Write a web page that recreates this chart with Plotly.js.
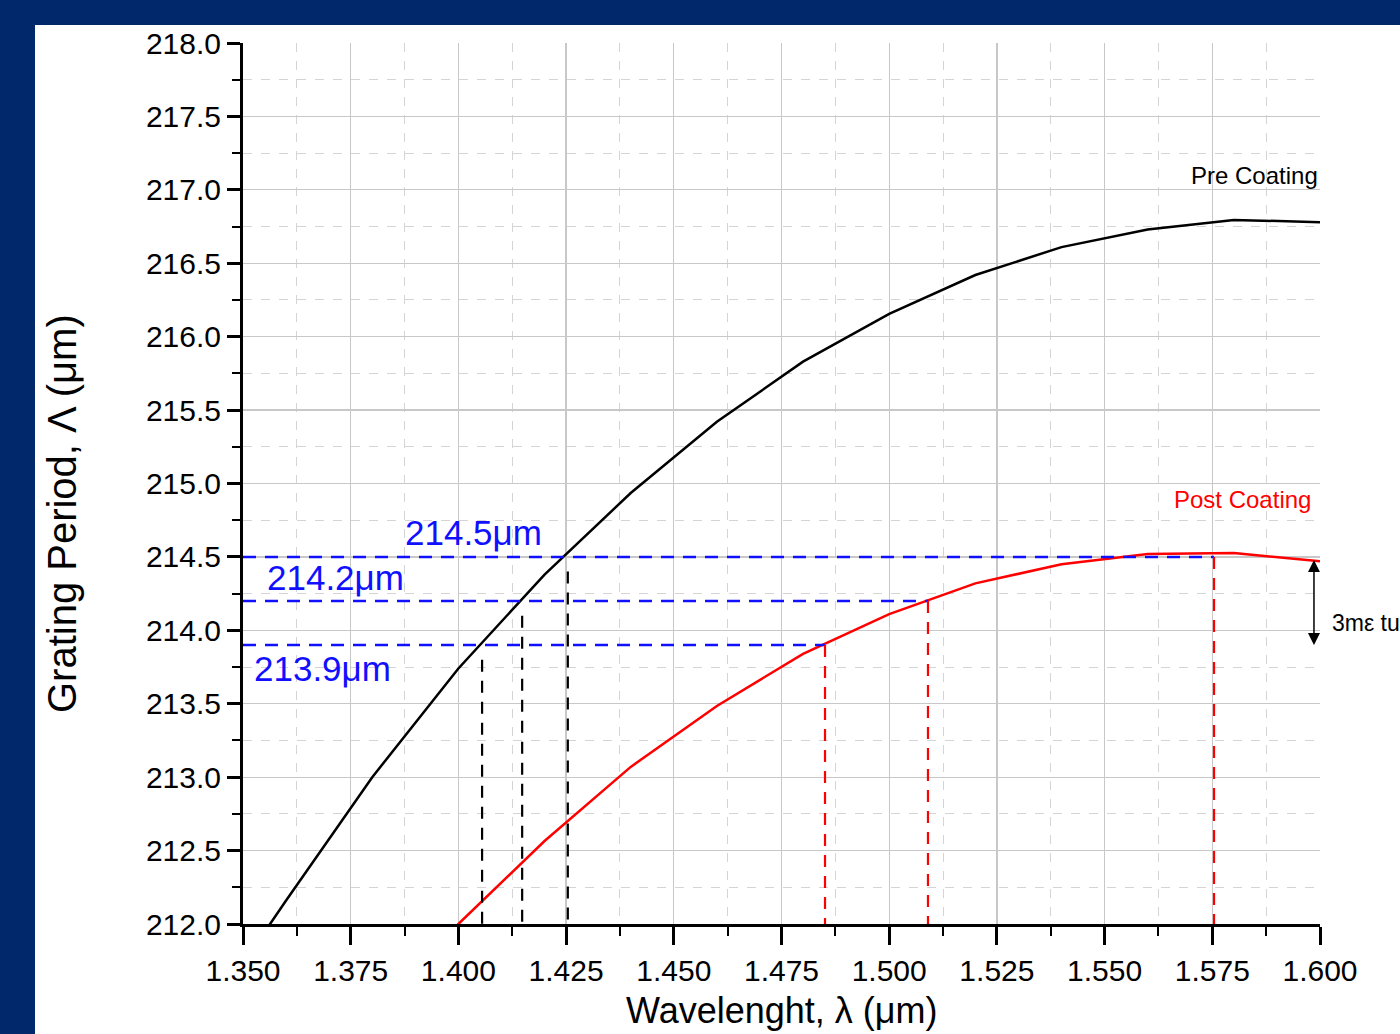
<!DOCTYPE html>
<html>
<head>
<meta charset="utf-8">
<script src="https://cdn.plot.ly/plotly-3.0.1.min.js"></script>
<style>
html,body{margin:0;padding:0;background:#00286a;width:1400px;height:1034px;overflow:hidden;}
#chart{position:absolute;left:35px;top:25px;width:1365px;height:1009px;}
</style>
</head>
<body>
<div id="chart"></div>
<script>
// Data
const wavelength = [1.34, 1.36, 1.38, 1.40, 1.42, 1.44, 1.46, 1.48, 1.50, 1.52, 1.54, 1.56, 1.58, 1.60];
const preCoating = [211.30, 212.16, 213.00, 213.74, 214.38, 214.935, 215.42, 215.83, 216.155, 216.42, 216.61, 216.73, 216.795, 216.78];
const postWl = [1.36, 1.38, 1.40, 1.42, 1.44, 1.46, 1.48, 1.50, 1.52, 1.54, 1.56, 1.58, 1.60];
const postVals = [210.90, 211.45, 212.00, 212.565, 213.07, 213.485, 213.84, 214.11, 214.32, 214.45, 214.52, 214.527, 214.47];
const levels = [214.5, 214.2, 213.9];
const levelLabels = ["214.5\u03bcm", "214.2\u03bcm", "213.9\u03bcm"];
const preCross = [1.4254, 1.4148, 1.4055];
const postCross = [1.5754, 1.5090, 1.4851];
const tuningTop = 214.49;
const tuningBottom = 213.9;
const xTicks = [1.350, 1.375, 1.400, 1.425, 1.450, 1.475, 1.500, 1.525, 1.550, 1.575, 1.600];
const yTicks = [212.0, 212.5, 213.0, 213.5, 214.0, 214.5, 215.0, 215.5, 216.0, 216.5, 217.0, 217.5, 218.0];

const font = "Liberation Sans, Arial, sans-serif";

const traces = [
  {x: wavelength, y: preCoating, mode: 'lines', line: {color: '#000000', width: 2.5}, name: 'Pre Coating', hoverinfo: 'skip'},
  {x: postWl, y: postVals, mode: 'lines', line: {color: '#ff0000', width: 2.5}, name: 'Post Coating', hoverinfo: 'skip'}
];

const shapes = [];
levels.forEach((lv, i) => {
  shapes.push({type: 'line', xref: 'x', yref: 'y', x0: xTicks[0], x1: postCross[i], y0: lv, y1: lv,
    line: {color: '#1010ff', width: 2.5, dash: '13px,9px'}});
  shapes.push({type: 'line', xref: 'x', yref: 'y', x0: preCross[i], x1: preCross[i], y0: lv - 0.1, y1: yTicks[0],
    line: {color: '#000000', width: 2.2, dash: '12px,9px'}});
  shapes.push({type: 'line', xref: 'x', yref: 'y', x0: postCross[i], x1: postCross[i], y0: lv, y1: yTicks[0],
    line: {color: '#ff0000', width: 2.2, dash: '12px,9px'}});
});

const labelPos = [
  {x: 1.3871, y: 214.663},
  {x: 1.3551, y: 214.363},
  {x: 1.3521, y: 213.737}
];
const annotations = levelLabels.map((t, i) => ({
  x: labelPos[i].x, y: labelPos[i].y, xref: 'x', yref: 'y', text: t, showarrow: false,
  xanchor: 'left', yanchor: 'middle', font: {family: font, size: 35, color: '#1010ff'}
}));
annotations.push({x: 1.6, y: 217.10, xref: 'x', yref: 'y', text: 'Pre Coating', showarrow: false,
  xanchor: 'right', yanchor: 'middle', font: {family: font, size: 24, color: '#000000'}});
annotations.push({x: 1.5984, y: 214.888, xref: 'x', yref: 'y', text: 'Post Coating', showarrow: false,
  xanchor: 'right', yanchor: 'middle', font: {family: font, size: 24, color: '#ff0000'}});
annotations.push({x: 1.5986, y: tuningBottom, ax: 1.5986, ay: tuningTop, xref: 'x', yref: 'y', axref: 'x', ayref: 'y',
  text: '', showarrow: true, arrowhead: 2, arrowside: 'end+start', arrowsize: 1.6, arrowwidth: 1.5, arrowcolor: '#000000'});
annotations.push({x: 1.0093, y: 0.3417, xref: 'paper', yref: 'paper', text: '3m\u03b5 tu', showarrow: false,
  xanchor: 'left', yanchor: 'middle', font: {family: font, size: 23, color: '#000000'}});
annotations.push({x: -0.168, y: 0.4654, xref: 'paper', yref: 'paper', text: 'Grating Period, \u039b (\u03bcm)', showarrow: false,
  textangle: -90, xanchor: 'center', yanchor: 'middle', font: {family: font, size: 40, color: '#000000'}});
annotations.push({x: 0.5, y: -0.1237, xref: 'paper', yref: 'paper', text: 'Wavelenght, \u03bb (\u03bcm)', showarrow: false,
  xanchor: 'center', yanchor: 'bottom', font: {family: font, size: 36, color: '#000000'}});

const layout = {
  width: 1365, height: 1009,
  margin: {l: 208, r: 80, t: 18, b: 110},
  paper_bgcolor: '#ffffff', plot_bgcolor: '#ffffff',
  showlegend: false,
  font: {family: font, color: '#000000'},
  xaxis: {
    range: [1.35, 1.60], tickvals: xTicks, ticktext: xTicks.map(v => v.toFixed(3)),
    ticks: 'outside', ticklen: 18, tickwidth: 3, tickcolor: '#000000',
    showline: true, linewidth: 3, linecolor: '#000000', mirror: false,
    showgrid: true, gridcolor: '#c8c8c8', gridwidth: 1.2, zeroline: false,
    tickfont: {family: font, size: 30, color: '#000000'},
    minor: {dtick: 0.0125, tick0: 1.35, ticks: 'outside', ticklen: 9, tickwidth: 2, tickcolor: '#000000',
      showgrid: true, gridcolor: '#d4d4d4', griddash: 'dash', gridwidth: 1}
  },
  yaxis: {
    range: [212, 218], tickvals: yTicks, ticktext: yTicks.map(v => v.toFixed(1)),
    ticks: 'outside', ticklen: 13, tickwidth: 3, tickcolor: '#000000',
    showline: true, linewidth: 3, linecolor: '#000000', mirror: false,
    showgrid: true, gridcolor: '#c8c8c8', gridwidth: 1.2, zeroline: false,
    tickfont: {family: font, size: 30, color: '#000000'},
    minor: {dtick: 0.25, tick0: 212, ticks: 'outside', ticklen: 8, tickwidth: 2, tickcolor: '#000000',
      showgrid: true, gridcolor: '#d4d4d4', griddash: 'dash', gridwidth: 1}
  },
  shapes: shapes,
  annotations: annotations
};

Plotly.newPlot('chart', traces, layout, {displayModeBar: false, staticPlot: true});
</script>
</body>
</html>
